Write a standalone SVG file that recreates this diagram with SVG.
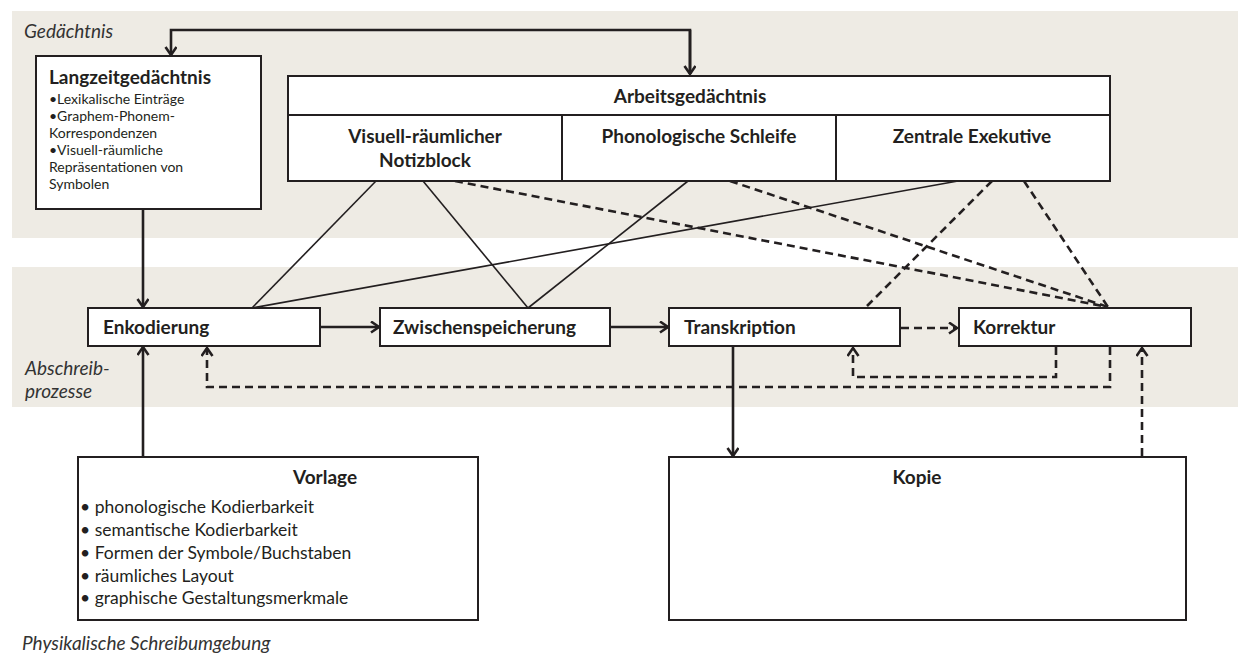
<svg xmlns="http://www.w3.org/2000/svg" width="1238" height="655" viewBox="0 0 1238 655">
<style>
.band{fill:#eeebe4}
.box{fill:#fff;stroke:#231f20;stroke-width:2}
.t{font-family:Lato,"Liberation Sans",sans-serif;fill:#231f20}
.b{font-weight:bold;font-size:19px}
.s{font-size:14px}
.l{font-size:17.5px}
.i{font-style:italic;font-size:19px;fill:#333}
.c{fill:none;stroke:#231f20}
.thin{stroke-width:1.6}
.arr{stroke-width:2.6}
.dash{stroke-width:2.6;stroke-dasharray:8 5}
</style>
<defs>
<marker id="ah" markerUnits="userSpaceOnUse" markerWidth="14" markerHeight="14" refX="10" refY="6" orient="auto">
<path d="M2,0.5 L10,6 L2,11.5" fill="none" stroke="#231f20" stroke-width="2.6"/>
</marker>
</defs>
<rect class="band" x="12" y="11" width="1226" height="227"/>
<rect class="band" x="12" y="267" width="1226" height="140"/>
<text class="t i" x="24" y="38">Gedächtnis</text>
<text class="t i" x="25" y="375">Abschreib-</text>
<text class="t i" x="25" y="398">prozesse</text>
<text class="t i" x="22" y="650">Physikalische Schreibumgebung</text>

<g id="connectors">
<path class="c arr" d="M690,74 V30 H171 V55" marker-end="url(#ah)"/>
<path class="c arr" d="M690,30 V74" marker-end="url(#ah)"/>
<line class="c thin" x1="376" y1="181" x2="252" y2="308"/>
<line class="c thin" x1="423" y1="181" x2="528" y2="308"/>
<line class="c thin" x1="688" y1="181" x2="528" y2="308"/>
<line class="c thin" x1="958" y1="181" x2="252" y2="308"/>
<line class="c dash" x1="455" y1="181" x2="1108" y2="307"/>
<line class="c dash" x1="730" y1="181" x2="1108" y2="307"/>
<line class="c dash" x1="1024" y1="181" x2="1108" y2="307"/>
<line class="c dash" x1="992" y1="181" x2="867" y2="306"/>
<path class="c arr" d="M143,210 V307" marker-end="url(#ah)"/>
<path class="c arr" d="M143,457 V347" marker-end="url(#ah)"/>
<path class="c arr" d="M321,327 H379" marker-end="url(#ah)"/>
<path class="c arr" d="M611,327 H668" marker-end="url(#ah)"/>
<path class="c dash" d="M901,328 H957" marker-end="url(#ah)"/>
<path class="c arr" d="M733,347 V456" marker-end="url(#ah)"/>
<path class="c dash" d="M1142,456 V348" marker-end="url(#ah)"/>
<path class="c dash" d="M1056,347 V377 H853 V348" marker-end="url(#ah)"/>
<path class="c dash" d="M1110,347 V387 H207 V348" marker-end="url(#ah)"/>
</g>

<g id="langzeit">
<rect class="box" x="36" y="56" width="225" height="153"/>
<text class="t b" x="49" y="84">Langzeitgedächtnis</text>
<text class="t s" x="49" y="104">•Lexikalische Einträge</text>
<text class="t s" x="49" y="121">•Graphem-Phonem-</text>
<text class="t s" x="49" y="138">Korrespondenzen</text>
<text class="t s" x="49" y="155">•Visuell-räumliche</text>
<text class="t s" x="49" y="172">Repräsentationen von</text>
<text class="t s" x="49" y="189">Symbolen</text>
</g>

<g id="arbeit">
<rect class="box" x="288" y="76" width="822" height="39"/>
<text class="t b" x="690" y="103" text-anchor="middle">Arbeitsgedächtnis</text>
</g>
<g id="visuell">
<rect class="box" x="288" y="115" width="274" height="66"/>
<text class="t b" x="425" y="143" text-anchor="middle">Visuell-räumlicher</text>
<text class="t b" x="425" y="167" text-anchor="middle">Notizblock</text>
</g>
<g id="phono">
<rect class="box" x="562" y="115" width="274" height="66"/>
<text class="t b" x="699" y="143" text-anchor="middle">Phonologische Schleife</text>
</g>
<g id="zentral">
<rect class="box" x="836" y="115" width="274" height="66"/>
<text class="t b" x="972" y="143" text-anchor="middle">Zentrale Exekutive</text>
</g>

<g id="enkodierung">
<rect class="box" x="88" y="308" width="232" height="38"/>
<text class="t b" x="103" y="334">Enkodierung</text>
</g>
<g id="zwischen">
<rect class="box" x="380" y="308" width="230" height="38"/>
<text class="t b" x="393" y="334">Zwischenspeicherung</text>
</g>
<g id="transkription">
<rect class="box" x="669" y="308" width="231" height="38"/>
<text class="t b" x="684" y="334">Transkription</text>
</g>
<g id="korrektur">
<rect class="box" x="959" y="308" width="232" height="38"/>
<text class="t b" x="973" y="334">Korrektur</text>
</g>

<g id="vorlage">
<rect class="box" x="78" y="457" width="400" height="163"/>
<text class="t b" x="325" y="484" text-anchor="middle">Vorlage</text>
<text class="t l" x="80" y="513">• phonologische Kodierbarkeit</text>
<text class="t l" x="80" y="536">• semantische Kodierbarkeit</text>
<text class="t l" x="80" y="559">• Formen der Symbole/Buchstaben</text>
<text class="t l" x="80" y="582">• räumliches Layout</text>
<text class="t l" x="80" y="604">• graphische Gestaltungsmerkmale</text>
</g>
<g id="kopie">
<rect class="box" x="669" y="457" width="517" height="163"/>
<text class="t b" x="917" y="484" text-anchor="middle">Kopie</text>
</g>
</svg>
